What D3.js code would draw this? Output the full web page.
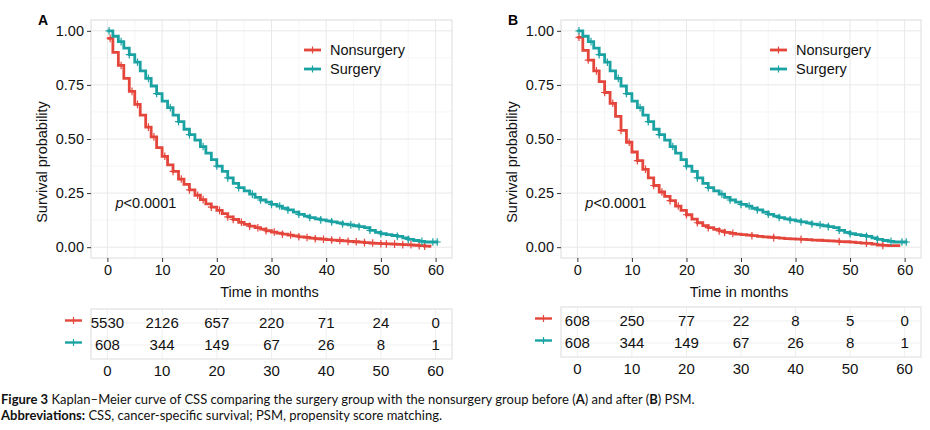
<!DOCTYPE html>
<html><head><meta charset="utf-8">
<script src="https://cdn.jsdelivr.net/npm/d3@7"></script>
<style>
html,body{margin:0;padding:0;background:#fff;}
svg{display:block;}
</style></head>
<body>
<svg id="chart" width="930" height="430"></svg>
<script>
// ---------- DATA ----------
const stepTimes = [0,1,2,3,4,5,6,7,8,9,10,11,12,13,14,15,16,17,18,19,20,21,22,23,24,25,26,27,28,29,
  30,31,32,33,34,35,36,37,38,39,40,41,42,43,44,45,46,47,48,49,50,51,52,53,54,55,56,57,58,59,60];

const nonsurgeryA = [0.965,0.90,0.84,0.78,0.72,0.66,0.61,0.555,0.51,0.46,0.42,0.38,0.35,0.315,0.29,0.265,0.24,0.22,0.20,0.185,
  0.17,0.155,0.14,0.128,0.115,0.105,0.097,0.09,0.083,0.076,0.07,0.065,0.06,0.056,0.052,0.048,0.045,0.042,0.039,0.037,
  0.035,0.033,0.031,0.029,0.027,0.025,0.023,0.021,0.019,0.018,0.016,0.015,0.014,0.013,0.012,0.011,0.009,0.007,0.005,0.004];
const nonsurgeryAEnd = 59.2;

const surgery = [1.0,0.975,0.95,0.92,0.89,0.855,0.815,0.78,0.745,0.71,0.675,0.645,0.61,0.58,0.545,0.52,0.495,0.465,0.435,0.405,
  0.375,0.35,0.32,0.295,0.275,0.26,0.245,0.23,0.218,0.208,0.198,0.19,0.18,0.172,0.162,0.152,0.144,0.137,0.131,0.126,
  0.122,0.117,0.112,0.107,0.103,0.099,0.095,0.09,0.078,0.068,0.062,0.058,0.054,0.05,0.043,0.036,0.031,0.027,0.024,0.024,0.024];
const surgeryEnd = 60.5;

const nonsurgeryB = [0.97,0.91,0.865,0.815,0.765,0.715,0.665,0.605,0.54,0.485,0.44,0.40,0.36,0.32,0.285,0.255,0.235,0.215,0.19,0.17,
  0.15,0.13,0.113,0.10,0.09,0.082,0.075,0.068,0.064,0.06,0.058,0.056,0.053,0.05,0.048,0.046,0.044,0.042,0.040,0.038,
  0.037,0.036,0.035,0.033,0.032,0.03,0.029,0.028,0.026,0.025,0.023,0.021,0.019,0.018,0.014,0.01,0.008,0.007,0.007,0.007];
const nonsurgeryBEnd = 59.2;

const censorNonsurgeryA = [0.5,2.5,4.5,5.5,7.5,8.5,10.5,12,13.5,15,16.5,17.5,19,20.5,22,23,24.5,26,27.5,29,30.5,32,33.5,35,
  36.5,38,39.5,41,42.5,44,45.5,47,48.5,50,51,52.5,54,55.5,57,58];
const censorSurgery = [0.3,2.5,4,5.5,7.5,9,11.5,13,15,17.5,20,22,24,26.5,28,30,31.5,33,35,37,39,41,43,44.5,46,48,50,53,55,57.5,59.5,60.3];
const censorNonsurgeryB = [0.3,2,3.5,5,6.5,8,9.5,11,12.5,14,15.5,17,18.5,20,22,24,26,27,28.5,32,36,41,48,53,56];

const xTicks = [0,10,20,30,40,50,60];
const yTicks = [0,0.25,0.5,0.75,1.0];
const yTickLabels = ["0.00","0.25","0.50","0.75","1.00"];
const groups = ["Nonsurgery","Surgery"];
const riskNonsurgeryA = [5530,2126,657,220,71,24,0];
const riskSurgery = [608,344,149,67,26,8,1];
const riskNonsurgeryB = [608,250,77,22,8,5,0];

// ---------- STYLE ----------
const RED = "#E4463C", TEAL = "#1BA2A2";
const FONT = "'Liberation Sans', Arial, sans-serif";
const svg = d3.select("#chart");

function stepValue(times, vals, t){
  let v = vals[0];
  for (let i=0;i<vals.length;i++){ if (times[i] <= t) v = vals[i]; }
  return v;
}

function drawPanel(cfg){
  const g = svg.append("g");
  const x = d3.scaleLinear().domain([-3,63]).range([cfg.left, cfg.right]);
  const y = d3.scaleLinear().domain([-0.05,1.05]).range([cfg.bottom, cfg.top]);

  const minorX = [5,15,25,35,45,55], minorY = [0.125,0.375,0.625,0.875];
  g.selectAll(".mgx").data(minorX).join("line")
    .attr("x1",d=>x(d)).attr("x2",d=>x(d)).attr("y1",cfg.top).attr("y2",cfg.bottom)
    .attr("stroke","#f2f2f2").attr("stroke-width",0.7);
  g.selectAll(".mgy").data(minorY).join("line")
    .attr("y1",d=>y(d)).attr("y2",d=>y(d)).attr("x1",cfg.left).attr("x2",cfg.right)
    .attr("stroke","#f2f2f2").attr("stroke-width",0.7);
  g.selectAll(".gx").data(xTicks).join("line")
    .attr("x1",d=>x(d)).attr("x2",d=>x(d)).attr("y1",cfg.top).attr("y2",cfg.bottom)
    .attr("stroke","#e8e8e8").attr("stroke-width",1);
  g.selectAll(".gy").data(yTicks).join("line")
    .attr("y1",d=>y(d)).attr("y2",d=>y(d)).attr("x1",cfg.left).attr("x2",cfg.right)
    .attr("stroke","#e8e8e8").attr("stroke-width",1);
  g.append("rect").attr("x",cfg.left).attr("y",cfg.top)
    .attr("width",cfg.right-cfg.left).attr("height",cfg.bottom-cfg.top)
    .attr("fill","none").attr("stroke","#dcdcdc").attr("stroke-width",1);

  const xAxis = d3.axisBottom(x).tickValues(xTicks).tickSize(4).tickPadding(3);
  const gx = g.append("g").attr("transform",`translate(0,${cfg.bottom})`).call(xAxis);
  gx.select(".domain").remove();
  gx.selectAll("line").attr("stroke","#333");
  gx.selectAll("text").attr("font-family",FONT).attr("font-size",14.5).attr("fill","#111");
  const yAxis = d3.axisLeft(y).tickValues(yTicks).tickFormat((d,i)=>yTickLabels[i]).tickSize(4).tickPadding(3);
  const gy = g.append("g").attr("transform",`translate(${cfg.left},0)`).call(yAxis);
  gy.select(".domain").remove();
  gy.selectAll("line").attr("stroke","#333");
  gy.selectAll("text").attr("font-family",FONT).attr("font-size",14.5).attr("fill","#111");

  g.append("text").attr("x",(cfg.left+cfg.right)/2 - 2).attr("y",cfg.bottom+39)
    .attr("text-anchor","middle").attr("font-family",FONT).attr("font-size",14.5).attr("fill","#111")
    .text("Time in months");
  g.append("text").attr("transform",`translate(${cfg.left-49},${162}) rotate(-90)`)
    .attr("text-anchor","middle").attr("font-family",FONT).attr("font-size",14.5).attr("fill","#111")
    .attr("dy","0.35em").text("Survival probability");
  g.append("text").attr("x",cfg.left-53).attr("y",cfg.top+5)
    .attr("font-family",FONT).attr("font-size",14).attr("font-weight","bold").attr("fill","#000")
    .text(cfg.label);

  const line = d3.line().x(d=>x(d[0])).y(d=>y(d[1])).curve(d3.curveStepAfter);
  cfg.series.forEach(s=>{
    const pts = s.values.map((v,i)=>[stepTimes[i], v]);
    pts.push([s.end, s.values[s.values.length-1]]);
    g.append("path").datum(pts).attr("d",line).attr("fill","none")
      .attr("stroke",s.color).attr("stroke-width",2.8);
    g.selectAll(null).data(s.censor).join("path")
      .attr("d",t=>{
        const cx=x(t), cy=y(stepValue(stepTimes,s.values,t));
        return `M${cx-3.5},${cy}H${cx+3.5}M${cx},${cy-3.8}V${cy+3.8}`;
      })
      .attr("stroke",s.color).attr("stroke-width",1.2).attr("fill","none");
  });

  const pt = g.append("text").attr("x",x(0)+8).attr("y",y(0.18))
    .attr("font-family",FONT).attr("font-size",14.5).attr("fill","#111");
  pt.append("tspan").attr("font-style","italic").text("p");
  pt.append("tspan").text("<0.0001");

  const lg = g.append("g");
  cfg.series.forEach((s,i)=>{
    const ly = cfg.top + 30 + i*19;
    const lx = cfg.legendX;
    lg.append("line").attr("x1",lx).attr("x2",lx+17).attr("y1",ly).attr("y2",ly)
      .attr("stroke",s.color).attr("stroke-width",2.8);
    lg.append("path").attr("d",`M${lx+8.5},${ly-3.5}V${ly+3.5}`).attr("stroke",s.color).attr("stroke-width",1.2);
    lg.append("text").attr("x",lx+26).attr("y",ly).attr("dy","0.35em")
      .attr("font-family",FONT).attr("font-size",14.5).attr("fill","#111").text(groups[i]);
  });

  const rt = svg.append("g");
  const tTop = cfg.tableTop, tBot = cfg.tableTop+50;
  const ry = d3.scalePoint().domain(groups).range([tTop+14, tBot-14]);
  rt.selectAll(".tgx").data(xTicks).join("line")
    .attr("x1",d=>x(d)).attr("x2",d=>x(d)).attr("y1",tTop).attr("y2",tBot)
    .attr("stroke","#efefef").attr("stroke-width",1);
  rt.selectAll(".tgy").data(groups).join("line")
    .attr("x1",cfg.left).attr("x2",cfg.right).attr("y1",d=>ry(d)).attr("y2",d=>ry(d))
    .attr("stroke","#efefef").attr("stroke-width",1);
  rt.append("rect").attr("x",cfg.left).attr("y",tTop).attr("width",cfg.right-cfg.left).attr("height",tBot-tTop)
    .attr("fill","none").attr("stroke","#dcdcdc").attr("stroke-width",1);
  cfg.series.forEach((s,i)=>{
    const yy = ry(groups[i]);
    rt.selectAll(null).data(s.risk).join("text")
      .attr("x",(d,j)=>x(xTicks[j])).attr("y",yy).attr("dy","0.35em")
      .attr("text-anchor","middle").attr("font-family",FONT).attr("font-size",15).attr("fill","#111")
      .text(d=>d);
    const mx = cfg.left-26, my = yy-2.5;
    rt.append("line").attr("x1",mx).attr("x2",mx+17).attr("y1",my).attr("y2",my)
      .attr("stroke",s.color).attr("stroke-width",2.4);
    rt.append("path").attr("d",`M${mx+8.5},${my-3.5}V${my+3.5}`).attr("stroke",s.color).attr("stroke-width",1.2);
  });
  rt.selectAll(".tx").data(xTicks).join("text")
    .attr("x",d=>x(d)).attr("y",tBot+12).attr("dy","0.35em")
    .attr("text-anchor","middle").attr("font-family",FONT).attr("font-size",15).attr("fill","#111")
    .text(d=>d);
}

drawPanel({label:"A", left:91, right:452, top:20, bottom:258, legendX:304, tableTop:309,
  series:[
    {values:nonsurgeryA, end:nonsurgeryAEnd, color:RED, censor:censorNonsurgeryA, risk:riskNonsurgeryA},
    {values:surgery, end:surgeryEnd, color:TEAL, censor:censorSurgery, risk:riskSurgery}
  ]});
drawPanel({label:"B", left:561, right:921, top:20, bottom:258, legendX:770, tableTop:307,
  series:[
    {values:nonsurgeryB, end:nonsurgeryBEnd, color:RED, censor:censorNonsurgeryB, risk:riskNonsurgeryB},
    {values:surgery, end:surgeryEnd, color:TEAL, censor:censorSurgery, risk:riskSurgery}
  ]});

const CAP = "Lato, 'Open Sans', sans-serif";
const c1 = svg.append("text").attr("x",1).attr("y",404).attr("font-family",CAP).attr("font-size",13).attr("fill","#111");
[["Figure 3",true],[" Kaplan–Meier curve of CSS comparing the surgery group with the nonsurgery group before (",false],
 ["A",true],[") and after (",false],["B",true],[") PSM.",false]].forEach(([t,b])=>{
  c1.append("tspan").attr("font-weight",b?"bold":"normal").text(t);
});
const c2 = svg.append("text").attr("x",1).attr("y",420).attr("font-family",CAP).attr("font-size",13).attr("fill","#111");
c2.append("tspan").attr("font-weight","bold").text("Abbreviations:");
c2.append("tspan").text(" CSS, cancer-specific survival; PSM, propensity score matching.");
</script>
</body></html>
